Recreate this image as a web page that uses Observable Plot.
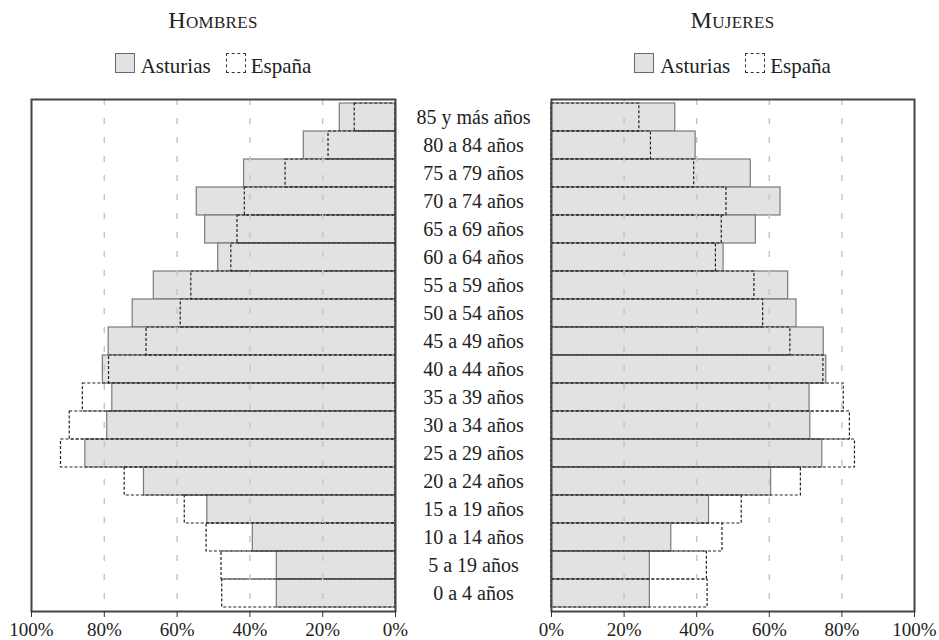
<!DOCTYPE html>
<html>
<head>
<meta charset="utf-8">
<script src="https://cdn.jsdelivr.net/npm/d3@7"></script>
<script src="https://cdn.jsdelivr.net/npm/@observablehq/plot@0.6"></script>
<style>
  html, body { margin: 0; padding: 0; background: #fff; }
  #root { position: relative; width: 939px; height: 640px; overflow: hidden; font-family: "Liberation Serif", serif; color: #222; }
  .title { position: absolute; top: 8px; font-size: 24px; line-height: 24px; font-variant: small-caps; text-align: center; letter-spacing: 0.3px; }
  .legend { position: absolute; top: 53px; font-size: 21px; line-height: 21px; text-align: center; white-space: nowrap; }
  .sw { display: inline-block; width: 20px; height: 20px; vertical-align: baseline; box-sizing: border-box; }
  .sw.ast { background: #e1e2e4; border: 1px solid #6a6a6a; margin-right: 6px; }
  .sw.esp { border: 1px dashed #333; margin-left: 15px; margin-right: 5px; }
  .panel { position: absolute; top: 90px; }
</style>
</head>
<body>
<div id="root">
  <div class="title" style="left:31px;width:364px;">Hombres</div>
  <div class="title" style="left:551px;width:363px;">Mujeres</div>
  <div class="legend" style="left:31px;width:364px;"><span class="sw ast"></span>Asturias<span class="sw esp"></span>España</div>
  <div class="legend" style="left:551px;width:363px;"><span class="sw ast"></span>Asturias<span class="sw esp"></span>España</div>
  <div class="panel" id="left" style="left:0px;"></div>
  <div class="panel" id="right" style="left:410px;"></div>
</div>
<script>
// Age groups, top to bottom
const ages = ["85 y más años", "80 a 84 años", "75 a 79 años", "70 a 74 años", "65 a 69 años",
  "60 a 64 años", "55 a 59 años", "50 a 54 años", "45 a 49 años", "40 a 44 años",
  "35 a 39 años", "30 a 34 años", "25 a 29 años", "20 a 24 años", "15 a 19 años",
  "10 a 14 años", "5 a 19 años", "0 a 4 años"];

// Hombres (%)
const hombresAsturias = [15.3, 25.2, 41.6, 54.6, 52.3, 48.7, 66.4, 72.2, 78.8, 80.4, 77.8, 79.2, 85.2, 69.1, 51.7, 39.2, 32.6, 32.6];
const hombresEspana   = [11.2, 18.4, 30.2, 41.4, 43.4, 45.1, 56.1, 59.0, 68.4, 78.7, 85.9, 89.5, 91.9, 74.4, 57.9, 51.9, 47.8, 47.6];

// Mujeres (%)
const mujeresAsturias = [34.1, 39.7, 54.9, 63.1, 56.3, 47.4, 65.2, 67.5, 75.0, 75.7, 71.1, 71.3, 74.6, 60.5, 43.4, 33.0, 27.1, 27.1];
const mujeresEspana   = [24.2, 27.4, 39.3, 48.2, 46.9, 45.3, 55.9, 58.3, 65.8, 74.9, 80.5, 82.2, 83.6, 68.7, 52.4, 47.1, 42.8, 43.0];

const tickValues = [0, 20, 40, 60, 80, 100];
const gridValues = [20, 40, 60, 80];

const men = ages.map((a, i) => ({age: a, ast: hombresAsturias[i], esp: hombresEspana[i]}));
const women = ages.map((a, i) => ({age: a, ast: mujeresAsturias[i], esp: mujeresEspana[i]}));

function panel(data, opts) {
  return Plot.plot({
    width: opts.width,
    height: 550,
    marginLeft: opts.marginLeft,
    marginRight: opts.marginRight,
    marginTop: 9,
    marginBottom: 29,
    x: {domain: [0, 100], reverse: opts.reverse},
    y: {domain: ages, padding: 0, axis: null},
    style: {fontFamily: "Liberation Serif, serif", fontSize: "19px", color: "#222", background: "transparent", overflow: "visible"},
    marks: [
      Plot.barX(data, {y: "age", x: "ast", fill: "#e1e2e4", stroke: "#7a7a7a", strokeWidth: 1.2}),
      Plot.barX(data, {y: "age", x: "esp", fill: "none", stroke: "#222", strokeWidth: 1.2, strokeDasharray: "3,2"}),
      Plot.ruleX(gridValues, {stroke: "#c6c6c6", strokeWidth: 1.5, strokeDasharray: "6,13"}),
      Plot.frame({stroke: "#444", strokeWidth: 2}),
      Plot.axisX(tickValues, {tickFormat: d => d + "%", tickSize: 6, tickPadding: 5, fontSize: 19, label: null, stroke: "#333"}),
      ...(opts.labels ? [Plot.text(ages, {y: d => d, frameAnchor: "left", dx: -78, textAnchor: "middle", fontSize: 20, fill: "#222"})] : [])
    ]
  });
}

document.getElementById("left").append(panel(men, {width: 410, marginLeft: 31, marginRight: 15, reverse: true, labels: false}));
document.getElementById("right").append(panel(women, {width: 529, marginLeft: 141, marginRight: 25, reverse: false, labels: true}));
</script>
</body>
</html>
